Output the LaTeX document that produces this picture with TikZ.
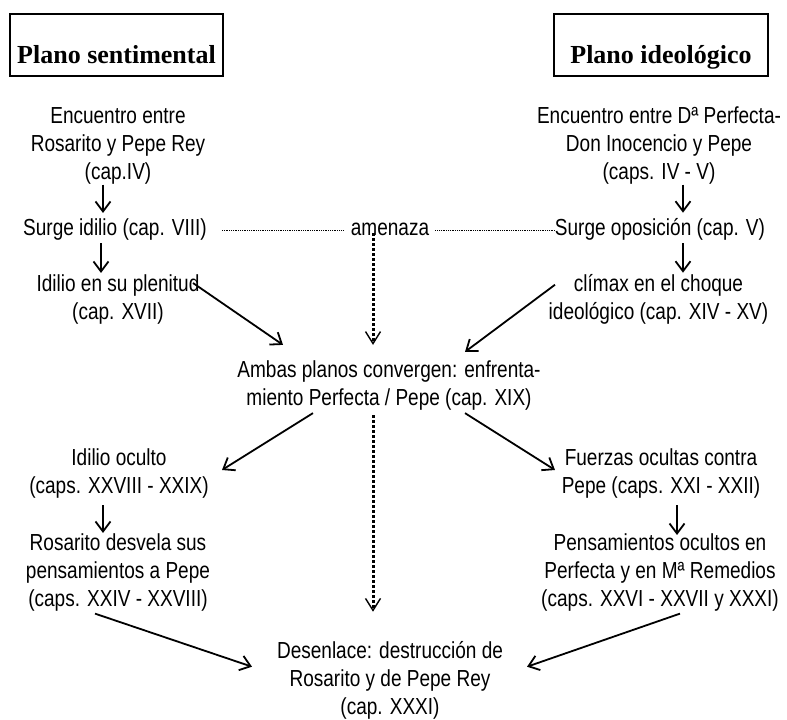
\documentclass[tikz,border=0pt]{standalone}
\usepackage{fontspec}
\setmainfont[FakeStretch=0.82]{Liberation Sans}
\newfontfamily\headfont{Liberation Serif}
\usetikzlibrary{arrows.meta}
\tikzset{
  txt/.style={inner sep=0pt, anchor=base, align=center, font=\fontsize{23.2pt}{28.3pt}\selectfont},
  headbox/.style={draw, line width=2pt, inner sep=0pt, text height=49pt, text depth=13pt,
    font=\headfont\bfseries\fontsize{26pt}{30pt}\selectfont},
  arr/.style={line width=1.8pt, -{Straight Barb[length=10pt,width=15pt]}},
  dotarr/.style={line width=3pt, dash pattern=on 3pt off 2pt,
    -{Straight Barb[length=12pt,width=15pt,line width=1.4pt]}},
  thindot/.style={line width=0.7pt, dash pattern=on 0.8pt off 1pt}
}
\begin{document}
\begin{tikzpicture}[x=1pt,y=-1pt]
\useasboundingbox (0,0) rectangle (787,720);
% headers
\node[headbox, minimum width=213pt] (hs) at (116.5,45) {Plano sentimental};
\node[headbox, minimum width=214pt] (hi) at (661,45) {Plano ideológico};
% left column (anchor = baseline of last line)
\node[txt] (L1) at (118,179.6) {Encuentro entre\\Rosarito y Pepe Rey\\(cap.IV)};
\node[txt] (L2) at (115,235) {Surge idilio (cap. VIII)};
\node[txt] (L3) at (118,319.3) {Idilio en su plenitud\\(cap. XVII)};
% middle
\node[txt] (amen) at (390,235) {amenaza};
% right column
\node[txt] (R1) at (659,179.6) {Encuentro entre Dª Perfecta-\\Don Inocencio y Pepe\\(caps. IV - V)};
\node[txt] (R2) at (660,235) {Surge oposición (cap. V)};
\node[txt] (R3) at (658.5,319.3) {clímax en el choque\\ideológico (cap. XIV - XV)};
% center
\node[txt] (C) at (389,405.8) {Ambas planos convergen: enfrenta-\\miento Perfecta / Pepe (cap. XIX)};
% lower
\node[txt] (L4) at (119,493.3) {Idilio oculto\\(caps. XXVIII - XXIX)};
\node[txt] (L5) at (118,606.6) {Rosarito desvela sus\\pensamientos a Pepe\\(caps. XXIV - XXVIII)};
\node[txt] (R4) at (661,493.3) {Fuerzas ocultas contra\\Pepe (caps. XXI - XXII)};
\node[txt] (R5) at (660,606.6) {Pensamientos ocultos en\\Perfecta y en Mª Remedios\\(caps. XXVI - XXVII y XXXI)};
\node[txt] (D) at (390,714.6) {Desenlace: destrucción de\\Rosarito y de Pepe Rey\\(cap. XXXI)};
% connectors
\draw[arr] ([xshift=-15pt]L1.south) -- ([xshift=-12pt,yshift=5pt]L2.north);
\draw[arr] ([xshift=-14pt,yshift=-3pt]L2.south) -- ([xshift=-17pt,yshift=1pt]L3.north);
\draw[arr] ([xshift=75pt,yshift=-9pt]L3.north) -- ([xshift=-106pt,yshift=15.6pt]C.north);
\draw[arr] ([xshift=-103.5pt,yshift=-11pt]R3.north) -- ([xshift=76pt,yshift=8.6pt]C.north);
\draw[arr] ([xshift=24pt]R1.south) -- ([xshift=23pt,yshift=5pt]R2.north);
\draw[arr] ([xshift=23pt,yshift=-3pt]R2.south) -- ([xshift=24.5pt,yshift=1pt]R3.north);
\draw[thindot] ([xshift=15pt,yshift=5pt]L2.base east) -- ([xshift=-7pt,yshift=5pt]amen.base west);
\draw[thindot] ([xshift=6pt,yshift=5pt]amen.base east) -- ([yshift=5pt]R2.base west);
\draw[dotarr] ([xshift=-17pt,yshift=2pt]amen.south) -- ([xshift=-16pt,yshift=15.6pt]C.north);
\draw[arr] ([xshift=-76pt,yshift=-2.3pt]C.south) -- ([xshift=103pt,yshift=-22pt]L4.north);
\draw[arr] ([xshift=76pt,yshift=-2.3pt]C.south) -- ([xshift=-106pt,yshift=-22pt]R4.north);
\draw[arr] ([xshift=-16pt,yshift=-7pt]L4.south) -- ([xshift=-15pt]L5.north);
\draw[arr] ([xshift=16pt,yshift=-7pt]R4.south) -- ([xshift=17pt,yshift=-2pt]R5.north);
\draw[dotarr] ([xshift=-16pt,yshift=-4.3pt]C.south) -- ([xshift=-17pt,yshift=29pt]D.north);
\draw[arr] ([xshift=-23pt,yshift=-2pt]L5.south) -- ([xshift=-138pt,yshift=-26pt]D.north);
\draw[arr] ([xshift=20pt,yshift=-2pt]R5.south) -- ([xshift=137pt,yshift=-26pt]D.north);
\end{tikzpicture}
\end{document}
